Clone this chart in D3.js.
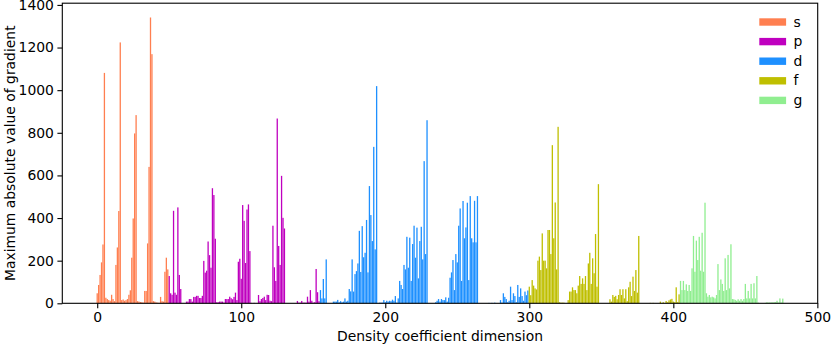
<!DOCTYPE html>
<html>
<head>
	<script src="https://cdn.jsdelivr.net/npm/d3@7"></script>
	<style>
		html, body {
			padding: 0;
			margin: 0;
			background: white;
		}
		text {
			font-family: "DejaVu Sans", sans-serif;
		}
	</style>
</head>
<body>
	<script>
		var width = 831;
		var height = 345;

		// values per angular momentum, in coefficient order
		var sVals = [47,86,133,192,276,1081,26,20,15,12, 40,20,10,180,262,433,1224,15,18,12,
			15,20,40,61,214,398,797,883,10,8, 6,5,3,58,58,281,640,1341,1169,10,
			8,4,3,2,30,10,8,148,214,159];
		var pVals = [128,47,40,434,50,40,450,133,67,0, 0,0,8,8,20,20,8,30,30,35,
			35,25,25,35,199,144,153,290,226,167, 540,508,303,5,5,8,8,8,3,20,
			20,20,31,24,19,30,50,15,195,209, 115,461,387,189,440,464,245,2,0,2,
			0,0,39,10,20,25,31,15,40,39, 12,10,364,169,105,867,269,180,598,401,
			351,0,0,0,0,0,0,0,0,11, 3,3,11,3,3,3,31,8,62,12,
			3,5,161,52,10];
		var dVals = [62,23,114,23,206,0,0,0,0,8, 8,8,16,5,10,5,8,23,8,12,
			67,56,206,55,137,151,187,340,147,362, 216,237,391,145,550,414,292,734,253,1019,
			0,3,3,3,15,5,12,8,12,10, 17,12,34,3,23,105,86,67,180,159,
			312,167,308,105,278,364,214,355,117,292, 359,206,667,231,859,0,0,0,0,0,
			5,12,20,8,20,15,15,28,8,26, 120,145,203,62,231,192,364,445,105,480,
			305,356,472,109,503,305,286,481,286,503, 0,0,0,0,0,0,0,2,0,2,
			0,3,0,0,0,15,3,47,30,20, 5,12,78,15,47,34,5,86,30,70,
			34,12,55,38,60];
		var fVals = [78,38,109,83,70,65,200,219,156,328, 200,200,164,344,344,231,742,305,473,159,
			828,5,3,3,3,0,0,15,55,55, 75,62,62,47,83,128,91,117,91,128,
			62,187,237,91,211,141,325,78,559,0, 0,0,0,0,0,0,19,8,39,30,
			35,19,39,66,39,66,23,66,10,75, 101,34,125,58,156,50,316,0,0,0,
			0,0,0,0,2,0,2,0,0,0, 0,8,0,5,0,11,5,14,18,21,
			8,5,75,5,42];
		var gVals = [105,62,105,62,89,58,86,58,164,316, 148,294,203,312,153,331,148,472,47,31,
			39,28,31,28,23,39,184,62,112,91, 58,211,62,227,70,277,20,19,16,12,
			19,12,20,12,20,91,23,58,23,91, 23,94,23,128,3,0,0,0,0,2,
			5,3,4,4,4,5,5,12,3,23, 3,22];

		var labels = ["s", "p", "d", "f", "g"];
		var colors = ["#ff7f50", "#bf00bf", "#1e90ff", "#bfbf00", "#90ee90"];
		var xTicks = [0, 100, 200, 300, 400, 500];
		var yTicks = [0, 200, 400, 600, 800, 1000, 1200, 1400];

		// flatten into one list of bars with a running index
		var groups = [sVals, pVals, dVals, fVals, gVals];
		var bars = [];
		var idx = 0;
		groups.forEach(function(vals, g) {
			vals.forEach(function(v) {
				bars.push({i: idx, v: v, g: g});
				idx++;
			});
		});

		// plot box (named so they don't clash with window.top)
		var pLeft = 62.3, pRight = 817.7, pTop = 3.2, pBottom = 303.3;
		var pad = (idx - 1 + 0.8) * 0.05;

		var x = d3.scaleLinear()
			.domain([-0.4 - pad, idx - 1 + 0.4 + pad])
			.range([pLeft, pRight]);
		var y = d3.scaleLinear()
			.domain([0, d3.max(bars, function(d) { return d.v; }) * 1.05])
			.range([pBottom, pTop]);

		var svg = d3.select('body').append('svg')
			.attr('width', width)
			.attr('height', height)
			.style('display', 'block');

		svg.append("rect")
			.attr("width", width)
			.attr("height", height)
			.attr("fill", "white");

		//////// BARS ////////
		svg.append("g").selectAll("rect")
			.data(bars)
			.enter().append("rect")
			.attr("x", function(d) { return x(d.i - 0.45); })
			.attr("width", x(0.9) - x(0))
			.attr("y", function(d) { return y(d.v); })
			.attr("height", function(d) { return y(0) - y(d.v); })
			.attr("fill", function(d) { return colors[d.g]; });

		//////// AXES ////////
		var xAxis = svg.append("g")
			.attr("transform", "translate(0," + pBottom + ")")
			.call(d3.axisBottom(x).tickValues(xTicks).tickSize(4.9).tickPadding(3.5));
		var yAxis = svg.append("g")
			.attr("transform", "translate(" + pLeft + ",0)")
			.call(d3.axisLeft(y).tickValues(yTicks).tickFormat(d3.format("d")).tickSize(4.9).tickPadding(3.5));

		[xAxis, yAxis].forEach(function(a) {
			a.select(".domain").remove();
			a.selectAll("line").attr("stroke", "black").attr("stroke-width", 1.1);
			a.selectAll("text")
				.attr("fill", "black")
				.style("font-size", "13.9px")
				.style("font-family", "DejaVu Sans");
		});

		// frame
		svg.append("rect")
			.attr("x", pLeft)
			.attr("y", pTop)
			.attr("width", pRight - pLeft)
			.attr("height", pBottom - pTop)
			.attr("fill", "none")
			.attr("stroke", "black")
			.attr("stroke-width", 1.1);

		//////// LABELS ////////
		svg.append("text")
			.attr("x", (pLeft + pRight) / 2)
			.attr("y", 341)
			.attr("text-anchor", "middle")
			.style("font-size", "13.9px")
			.text("Density coefficient dimension");

		svg.append("text")
			.attr("transform", "translate(15," + (pTop + pBottom) / 2 + ") rotate(-90)")
			.attr("text-anchor", "middle")
			.style("font-size", "13.9px")
			.text("Maximum absolute value of gradient");

		//////// LEGEND ////////
		var legend = svg.append("g");
		labels.forEach(function(l, k) {
			var cy = 22 + k * 19.6;
			legend.append("rect")
				.attr("x", 759.3)
				.attr("y", cy - 3.7)
				.attr("width", 26.8)
				.attr("height", 7.4)
				.attr("fill", colors[k]);
			legend.append("text")
				.attr("x", 793.5)
				.attr("y", cy + 4.6)
				.style("font-size", "13.9px")
				.text(l);
		});
	</script>
</body>
</html>
